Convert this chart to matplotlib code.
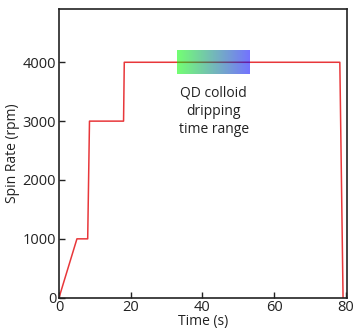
import numpy as np
import matplotlib
matplotlib.use("Agg")
import matplotlib.pyplot as plt
from matplotlib.colors import LinearSegmentedColormap

plt.rcParams['font.family'] = ['Open Sans', 'DejaVu Sans']

# Spin-coating recipe: time (s) vs spin rate (rpm)
time_s = [0, 5, 8, 8.5, 18, 18.2, 78.3, 79.2]
spin_rpm = [0, 1000, 1000, 3000, 3000, 4000, 4000, 0]

# QD colloid dripping window
drip_start, drip_end = 33, 53.3
drip_low, drip_high = 3800, 4200
drip_label = "QD colloid\ndripping\ntime range"

xticks = [0, 20, 40, 60, 80]
yticks = [0, 1000, 2000, 3000, 4000]

fig = plt.figure(figsize=(3.55, 3.29), dpi=100)
ax = fig.add_axes([59/355, 1 - 297.7/329, 288/355, 288.4/329])

ax.plot(time_s, spin_rpm, color='#e8373a', lw=1.1, zorder=2)

cmap = LinearSegmentedColormap.from_list('drip', ['#00ff00', '#0000ff'])
grad = np.linspace(0, 1, 256).reshape(1, -1)
ax.imshow(grad, cmap=cmap, aspect='auto', alpha=0.55,
          extent=[drip_start, drip_end, drip_low, drip_high], zorder=3)

ax.text((drip_start + drip_end) / 2, 3600, drip_label, ha='center', va='top',
        fontsize=10, linespacing=1.3, color='#222222', zorder=4)

ax.set_xlim(0, 80.3)
ax.set_ylim(0, 4900)
ax.set_xticks(xticks)
ax.set_yticks(yticks)
ax.tick_params(direction='in', length=4, width=1, labelsize=10.5, pad=2,
               colors='#222222')
for s in ax.spines.values():
    s.set_linewidth(1.2)
    s.set_color('#222222')

ax.set_xlabel('Time (s)', fontsize=10, labelpad=-1, color='#222222')
ax.set_ylabel('Spin Rate (rpm)', fontsize=10, labelpad=2, color='#222222')

fig.savefig('out.png', dpi=100)
